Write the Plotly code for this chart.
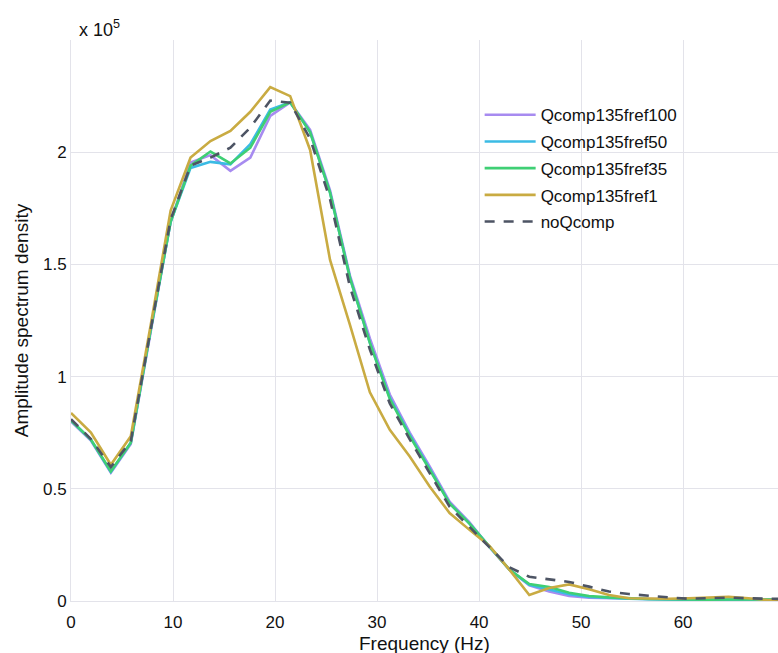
import plotly.graph_objects as go

df = 1.953125
q100 = [0.80, 0.715, 0.572, 0.700, 1.20, 1.69, 1.954, 1.987, 1.917, 1.976, 2.162, 2.222, 2.10, 1.83, 1.45, 1.17, 0.92, 0.75, 0.60, 0.443, 0.35, 0.24, 0.14, 0.070, 0.042, 0.022, 0.015, 0.012, 0.011, 0.009, 0.008, 0.006, 0.005, 0.007, 0.008, 0.009, 0.008, 0.007]
q50 = [0.805, 0.718, 0.575, 0.705, 1.21, 1.69, 1.930, 1.957, 1.946, 2.036, 2.190, 2.222, 2.09, 1.82, 1.44, 1.15, 0.905, 0.74, 0.59, 0.435, 0.345, 0.24, 0.14, 0.072, 0.050, 0.030, 0.018, 0.013, 0.010, 0.008, 0.006, 0.004, 0.004, 0.006, 0.007, 0.008, 0.008, 0.007]
q35 = [0.805, 0.719, 0.578, 0.705, 1.21, 1.69, 1.940, 2.003, 1.950, 2.020, 2.180, 2.222, 2.09, 1.82, 1.44, 1.15, 0.90, 0.735, 0.585, 0.435, 0.345, 0.24, 0.14, 0.076, 0.062, 0.037, 0.022, 0.016, 0.012, 0.009, 0.008, 0.006, 0.006, 0.007, 0.008, 0.008, 0.008, 0.007]
q1 = [0.838, 0.751, 0.607, 0.734, 1.23, 1.74, 1.976, 2.050, 2.095, 2.180, 2.290, 2.250, 2.01, 1.52, 1.23, 0.93, 0.763, 0.644, 0.51, 0.392, 0.317, 0.245, 0.14, 0.027, 0.058, 0.074, 0.052, 0.027, 0.012, 0.010, 0.010, 0.012, 0.016, 0.019, 0.012, 0.004, 0.004, 0.004]
noq = [0.81, 0.722, 0.597, 0.712, 1.21, 1.70, 1.940, 1.976, 2.020, 2.110, 2.230, 2.220, 2.06, 1.79, 1.40, 1.12, 0.88, 0.72, 0.57, 0.42, 0.33, 0.24, 0.15, 0.108, 0.097, 0.085, 0.064, 0.042, 0.031, 0.022, 0.016, 0.010, 0.012, 0.015, 0.012, 0.009, 0.008, 0.007]
freq = [round(i * df, 4) for i in range(len(q100))]

series = [
    ("Qcomp135fref100", q100, "#a78bf0", "solid"),
    ("Qcomp135fref50", q50, "#3bbbe4", "solid"),
    ("Qcomp135fref35", q35, "#3fcf74", "solid"),
    ("Qcomp135fref1", q1, "#c9ab42", "solid"),
    ("noQcomp", noq, "#4d5464", "10px,9px"),
]

y_ticks = [0, 0.5, 1, 1.5, 2]
y_tick_text = ["0", "0.5", "1", "1.5", "2"]
x_ticks = [0, 10, 20, 30, 40, 50, 60]
x_title = "Frequency (Hz)"
y_title = "Amplitude spectrum density"

scale = 1e5
fig = go.Figure()
for name, vals, color, dash in series:
    fig.add_trace(go.Scatter(
        x=freq, y=[v * scale for v in vals], mode="lines", name=name,
        legendgroup=name,
        line=dict(color=color, width=2.6, dash=dash),
    ))

font_family = "Liberation Sans, Arial, sans-serif"
grid = "#e3e3ea"
fig.update_layout(
    width=778, height=653,
    margin=dict(l=71, r=0, t=40, b=52),
    paper_bgcolor="white", plot_bgcolor="white",
    font=dict(family=font_family, size=16, color="#111111"),
    showlegend=True,
    legend=dict(x=0.578, y=0.898, xanchor="left", yanchor="top",
                bgcolor="rgba(0,0,0,0)", font=dict(size=17),
                tracegroupgap=1.6, itemwidth=51),
    xaxis=dict(range=[0, 69.3], tickvals=x_ticks, showgrid=True, gridcolor=grid,
               showline=True, linecolor=grid, zeroline=False, ticks="",
               ticklabelstandoff=6, tickfont=dict(size=17)),
    yaxis=dict(range=[0, 2.5e5], tickvals=[t * scale for t in y_ticks], ticktext=y_tick_text,
               showgrid=True, gridcolor=grid, showline=True, linecolor=grid,
               zeroline=False, ticks="", tickfont=dict(size=17)),
    annotations=[
        dict(text="x 10<sup>5</sup>", x=0.0085, y=1.02, xref="paper", yref="paper",
             xanchor="left", yanchor="middle", showarrow=False, font=dict(size=18)),
        dict(text=x_title, x=0.5, y=-0.075, xref="paper", yref="paper",
             xanchor="center", yanchor="middle", showarrow=False, font=dict(size=19)),
        dict(text=y_title, x=-0.0697, y=0.5, xref="paper", yref="paper", textangle=-90,
             xanchor="center", yanchor="middle", showarrow=False, font=dict(size=19)),
    ],
)

fig.write_html("out.html")
